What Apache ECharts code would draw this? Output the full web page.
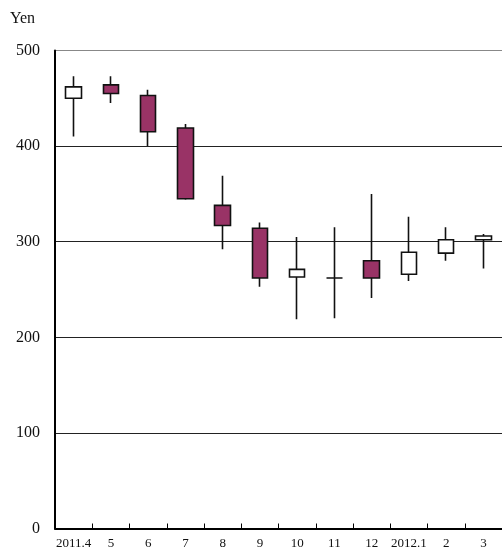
<!DOCTYPE html>
<html>
<head>
<meta charset="utf-8">
<script src="https://cdn.jsdelivr.net/npm/echarts@6/dist/echarts.min.js"></script>
<style>
  html, body { margin: 0; padding: 0; background: #fff; }
  #chart { width: 502px; height: 556px; }
</style>
</head>
<body>
<div id="chart"></div>
<script>
// Monthly share price, April 2011 – March 2012 (yen)
const months = ['2011.4', '5', '6', '7', '8', '9', '10', '11', '12', '2012.1', '2', '3'];
const openPrices  = [450, 464, 453, 419, 338, 314, 263, 262, 280, 266, 288, 302];
const closePrices = [462, 455, 415, 345, 317, 262, 271, 262, 262, 289, 302, 306];
const lowPrices   = [410, 445, 400, 344, 292, 253, 219, 220, 241, 259, 280, 272];
const highPrices  = [473, 473, 459, 423, 369, 320, 305, 315, 350, 326, 315, 308];
const yTicks = [0, 100, 200, 300, 400, 500];

const candles = months.map((m, i) => [openPrices[i], closePrices[i], lowPrices[i], highPrices[i]]);

const serif = '"Liberation Serif", "Times New Roman", serif';
const chart = echarts.init(document.getElementById('chart'), null, { renderer: 'canvas' });

chart.setOption({
  animation: false,
  backgroundColor: '#ffffff',
  grid: { left: 55, right: 0, top: 50.5, bottom: 27.5, containLabel: false },
  title: {
    text: 'Yen',
    left: 5, top: 6,
    textStyle: { fontFamily: serif, fontSize: 16, fontWeight: 'normal', color: '#111' }
  },
  xAxis: {
    type: 'category',
    data: months,
    boundaryGap: true,
    axisLine: { lineStyle: { color: '#000', width: 2 } },
    axisTick: { show: true, inside: true, interval: 0, length: 5, lineStyle: { color: '#000', width: 1 } },
    axisLabel: { interval: 0, hideOverlap: false, fontFamily: serif, fontSize: 13, color: '#111', margin: 9 },
    splitLine: { show: false }
  },
  yAxis: {
    type: 'value',
    min: yTicks[0],
    max: yTicks[yTicks.length - 1],
    interval: 100,
    axisLine: { show: true, lineStyle: { color: '#000', width: 2 } },
    axisTick: { show: false },
    axisLabel: { fontFamily: serif, fontSize: 16, color: '#111', margin: 15 },
    splitLine: { show: true, lineStyle: { color: ['#222', '#222', '#222', '#222', '#222', '#888'], width: 1 } }
  },
  series: [{
    type: 'candlestick',
    data: candles,
    barWidth: 16,
    itemStyle: {
      color: '#ffffff',
      color0: '#993366',
      borderColor: '#111',
      borderColor0: '#111',
      borderColorDoji: '#111',
      borderWidth: 1.6
    }
  }]
});
</script>
</body>
</html>
